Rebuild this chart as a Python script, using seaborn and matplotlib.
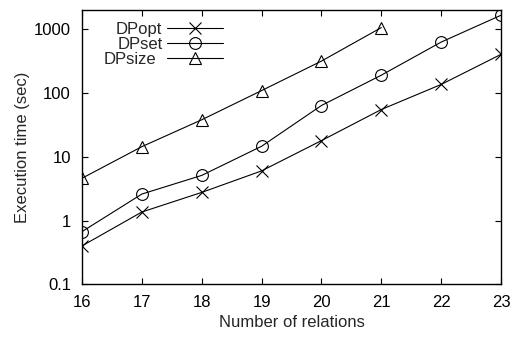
import numpy as np
import pandas as pd
import matplotlib
matplotlib.use("Agg")
import matplotlib.pyplot as plt
import seaborn as sns

relations = [16, 17, 18, 19, 20, 21, 22, 23]
dpopt = [0.40, 1.36, 2.76, 6.0, 17.9, 55, 136, 403]
dpset = [0.67, 2.6, 5.1, 14.6, 63.6, 190, 628, 1655]
dpsize = [4.6, 14.4, 38, 109, 316, 1059, np.nan, np.nan]
series_names = ["DPopt", "DPset", "DPsize"]
series_markers = ["x", "o", "^"]
yticks = [0.1, 1, 10, 100, 1000]
ytick_labels = ["0.1", "1", "10", "100", "1000"]

sns.set_style("ticks")
plt.rcParams["font.family"] = ["Liberation Sans", "DejaVu Sans"]

fig = plt.figure(figsize=(5.12, 3.38), dpi=100)
ax = fig.add_axes([82 / 512, 1 - 284.3 / 338, (501 - 82) / 512, (284.3 - 10) / 338])

for name, vals, mk in zip(series_names, [dpopt, dpset, dpsize], series_markers):
    d = pd.DataFrame({"relations": relations, "time": vals}).dropna()
    sns.lineplot(
        data=d, x="relations", y="time", ax=ax, color="black", label=name,
        marker=mk, linewidth=0.8, markersize=8.5 if mk != "^" else 8,
        markerfacecolor="none", markeredgecolor="black", markeredgewidth=0.8,
    )

ax.set_yscale("log")
ax.set_ylim(0.1, 2000)
ax.set_xlim(16, 23)
ax.set_xticks(relations)
ax.set_xticklabels([str(r) for r in relations])
ax.set_yticks(yticks)
ax.set_yticklabels(ytick_labels)
ax.minorticks_off()
ax.tick_params(direction="in", top=True, right=True, length=4.3, width=0.8,
               labelsize=12, colors="black", pad=8)
for s in ax.spines.values():
    s.set_visible(True)
    s.set_linewidth(1.0)
    s.set_color("black")

ax.set_xlabel("Number of relations", fontsize=12, labelpad=3)
ax.set_ylabel("Execution time (sec)", fontsize=12, labelpad=3)

handles, labels = ax.get_legend_handles_labels()
leg = ax.legend(handles, labels, loc="upper left", frameon=False, markerfirst=False,
                fontsize=12, handlelength=3.4, handletextpad=0.65, labelspacing=0.0,
                borderaxespad=0.0, borderpad=0.4, bbox_to_anchor=(0.035, 0.982))

# right-align legend labels (gnuplot style)
fig.canvas.draw()
renderer = fig.canvas.get_renderer()
texts = leg.get_texts()
widths = [t.get_window_extent(renderer).width for t in texts]
maxw = max(widths)
for t, w in zip(texts, widths):
    t.set_position((maxw - w, 0))

fig.savefig("out.png", dpi=100)
